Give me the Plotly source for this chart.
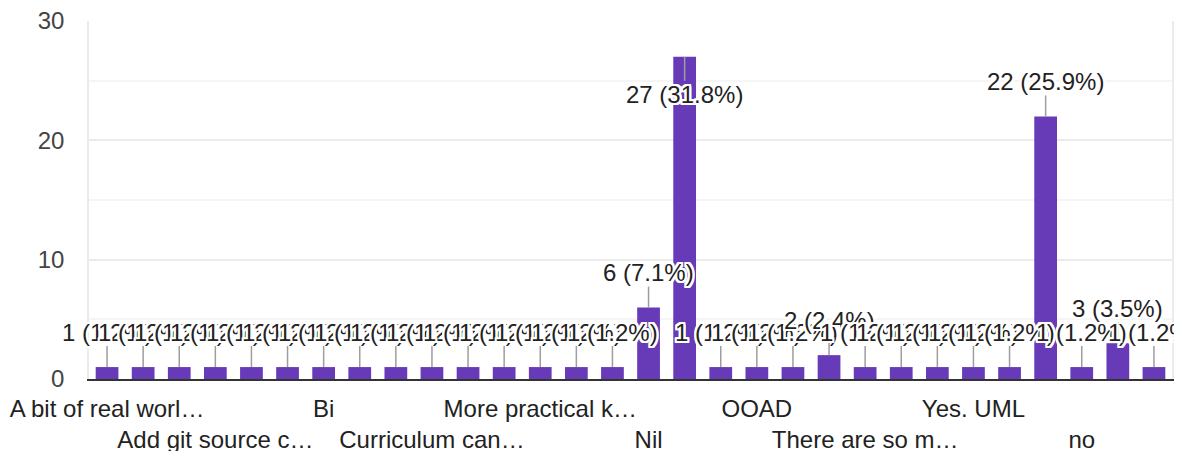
import plotly.graph_objects as go

categories = [
    "A bit of real world projects", "A lot more practical", "Add case studies",
    "Add git source control", "Agile", "Better labs", "Bi", "Case studies",
    "Cloud computing", "Curriculum can be updated", "DevOps", "Good",
    "More practical knowledge", "More projects", "NA", "Nil", "No",
    "No suggestions", "OOAD", "Practical sessions", "Projects",
    "There are so many topics", "UML", "Yes", "Yes. UML", "Yes. UML diagrams",
    "Yes. more practicals", "no", "nothing", "yes",
]
counts = [1, 1, 1, 1, 1, 1, 1, 1, 1, 1, 1, 1, 1, 1, 1, 6, 27, 1, 1, 1, 2,
          1, 1, 1, 1, 1, 22, 1, 3, 1]
tick_labels = {
    0: "A bit of real worl…", 3: "Add git source c…", 6: "Bi",
    9: "Curriculum can…", 12: "More practical k…", 15: "Nil",
    18: "OOAD", 21: "There are so m…", 24: "Yes. UML", 27: "no",
}
y_ticks = [0, 10, 20, 30]

total = sum(counts)
FONT = "Liberation Sans, Arial, sans-serif"
PURPLE = "#673ab7"
HALO = ", ".join(f"{dx}px {dy}px 0 #fff" for dx in (-2, -1, 0, 1, 2) for dy in (-2, -1, 0, 1, 2))

fig = go.Figure()
fig.add_trace(go.Bar(
    x=categories, y=counts, marker_color=PURPLE, marker_line_width=0,
    width=0.63, hoverinfo="x+y",
))

annotations = []
for cat, v in zip(categories, counts):
    pct = v / total * 100
    below = v >= 26
    annotations.append(dict(
        x=cat, y=v, xref="x", yref="y",
        text=f"{v} ({pct:.1f}%)",
        showarrow=True, arrowhead=0, arrowwidth=1.5, arrowcolor="#9e9e9e",
        ax=0, ay=38 if below else -35, standoff=0, borderpad=0,
        font=dict(family=FONT, size=24, color="#222", shadow=HALO),
    ))

tickvals = [categories[i] for i in tick_labels]
ticktext = [("<br>" if k % 2 else "") + t for k, t in enumerate(tick_labels.values())]

fig.update_layout(
    width=1174, height=443,
    margin=dict(l=81, r=10, t=13, b=72),
    paper_bgcolor="white", plot_bgcolor="white",
    showlegend=False, bargap=0.37,
    annotations=annotations,
    font=dict(family=FONT, size=24, color="#222"),
    xaxis=dict(
        type="category", tickvals=tickvals, ticktext=ticktext, tickangle=0,
        range=[-0.5, len(categories) - 0.5], autorange=False,
        automargin=False, ticklabelstandoff=7,
        tickfont=dict(size=24, color="#222"), ticks="", showgrid=False,
        showline=True, linecolor="#333", linewidth=2, zeroline=False,
    ),
    yaxis=dict(
        range=[0, 30], autorange=False, tickvals=y_ticks,
        tickfont=dict(size=24, color="#444"), ticklabeloverflow="allow",
        automargin=False,
        showgrid=True, gridcolor="#ebebeb", gridwidth=1.5,
        minor=dict(dtick=5, showgrid=True, gridcolor="#f5f5f5", gridwidth=1.5),
        showline=True, linecolor="#ebebeb", linewidth=1.5, mirror=True,
        zeroline=False, ticks="", ticklabelstandoff=18,
    ),
)
fig.write_html("out.html")
